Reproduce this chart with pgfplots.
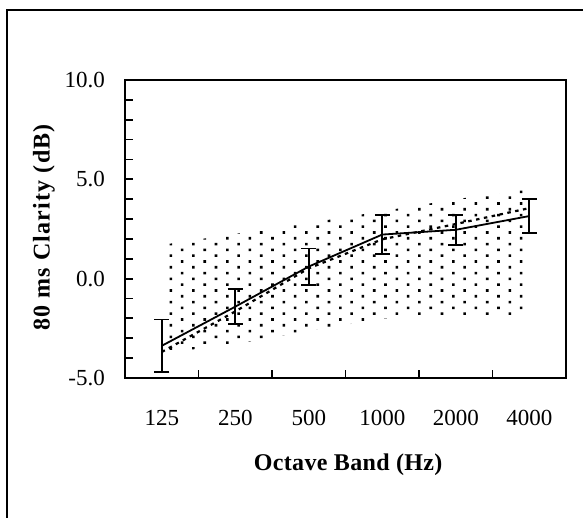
\documentclass[border=0pt]{standalone}
\usepackage{fontspec}
\setmainfont{Liberation Serif}
\newfontfamily\labelfont{Liberation Serif}[LetterSpace=1.5]
\newfontfamily\ylabelfont{Liberation Serif}[LetterSpace=5]
\usepackage{pgfplots}
\pgfplotsset{compat=1.18}
\usetikzlibrary{patterns}
\pgfdeclarepatternformonly{mydots}{\pgfpoint{0bp}{0bp}}{\pgfpoint{14bp}{9bp}}{\pgfpoint{22.6bp}{11.6bp}}{%
  \pgfpathrectangle{\pgfpoint{0bp}{0bp}}{\pgfpoint{2.6bp}{2.6bp}}%
  \pgfpathrectangle{\pgfpoint{11.3bp}{5.8bp}}{\pgfpoint{2.6bp}{2.6bp}}%
  \pgfusepath{fill}}
\begin{document}
\begin{tikzpicture}
\useasboundingbox (0,0) rectangle (583bp,518bp);
\draw[line width=1.8bp] (7bp,-2bp) -- (7bp,508bp) -- (590bp,508bp);
\begin{axis}[
  at={(125bp,140bp)}, anchor=south west,
  scale only axis, width=441bp, height=298bp,
  xmin=-0.5, xmax=5.5, ymin=-5, ymax=10,
  xtick={0,...,5},
  xticklabels={125,250,500,1000,2000,4000},
  minor xtick={0.5,1.5,2.5,3.5,4.5},
  ytick={-5,0,5,10},
  yticklabels={-5.0,0.0,5.0,10.0},
  minor ytick={-4,-3,-2,-1,1,2,3,4,6,7,8,9},
  tick pos=left,
  tick align=inside,
  major x tick style={draw=none},
  major tick length=7.5bp, minor tick length=7.5bp,
  every tick/.style={black, line width=1.8bp},
  axis line style={line width=1.8bp},
  xticklabel style={font=\fontsize{23bp}{27bp}\selectfont, anchor=base, inner sep=0pt, yshift=-47bp},
  yticklabel style={font=\fontsize{23bp}{27bp}\selectfont, anchor=east, inner sep=0pt, xshift=-20bp},
  xlabel={Octave Band (Hz)},
  ylabel={80 ms Clarity (dB)},
  xlabel style={font=\labelfont\bfseries\fontsize{24bp}{28bp}\selectfont, at={(axis description cs:0.506,-0.291)}, anchor=center},
  ylabel style={font=\ylabelfont\bfseries\fontsize{24bp}{28bp}\selectfont, at={(axis description cs:-0.184,0.505)}, anchor=center},
  clip=false,
]
\addplot[draw=none, pattern=mydots, pattern color=black] coordinates {
  (0,1.7) (1,2.25) (2,2.8) (3,3.4) (4,4.0) (5,4.5)
  (5,-1.8) (4,-1.9) (3,-2.0) (2,-2.65) (1,-3.3) (0,-3.75)
} -- cycle;
\addplot[black, line width=2.2bp, dash pattern=on 3.5bp off 4.5bp] coordinates {
  (0,-3.69) (1,-1.65) (2,0.52) (3,1.98) (4,2.75) (5,3.55)
};
\addplot[black, line width=1.8bp,
  error bars/.cd, y dir=both, y explicit,
  error bar style={line width=1.8bp},
  error mark options={rotate=90, line width=1.8bp, mark size=7.5bp, black}]
coordinates {
  (0,-3.38) +- (0,1.32)
  (1,-1.41) +- (0,0.88)
  (2,0.61) +- (0,0.91)
  (3,2.22) +- (0,0.97)
  (4,2.46) +- (0,0.76)
  (5,3.15) +- (0,0.85)
};
\end{axis}
\end{tikzpicture}
\end{document}
